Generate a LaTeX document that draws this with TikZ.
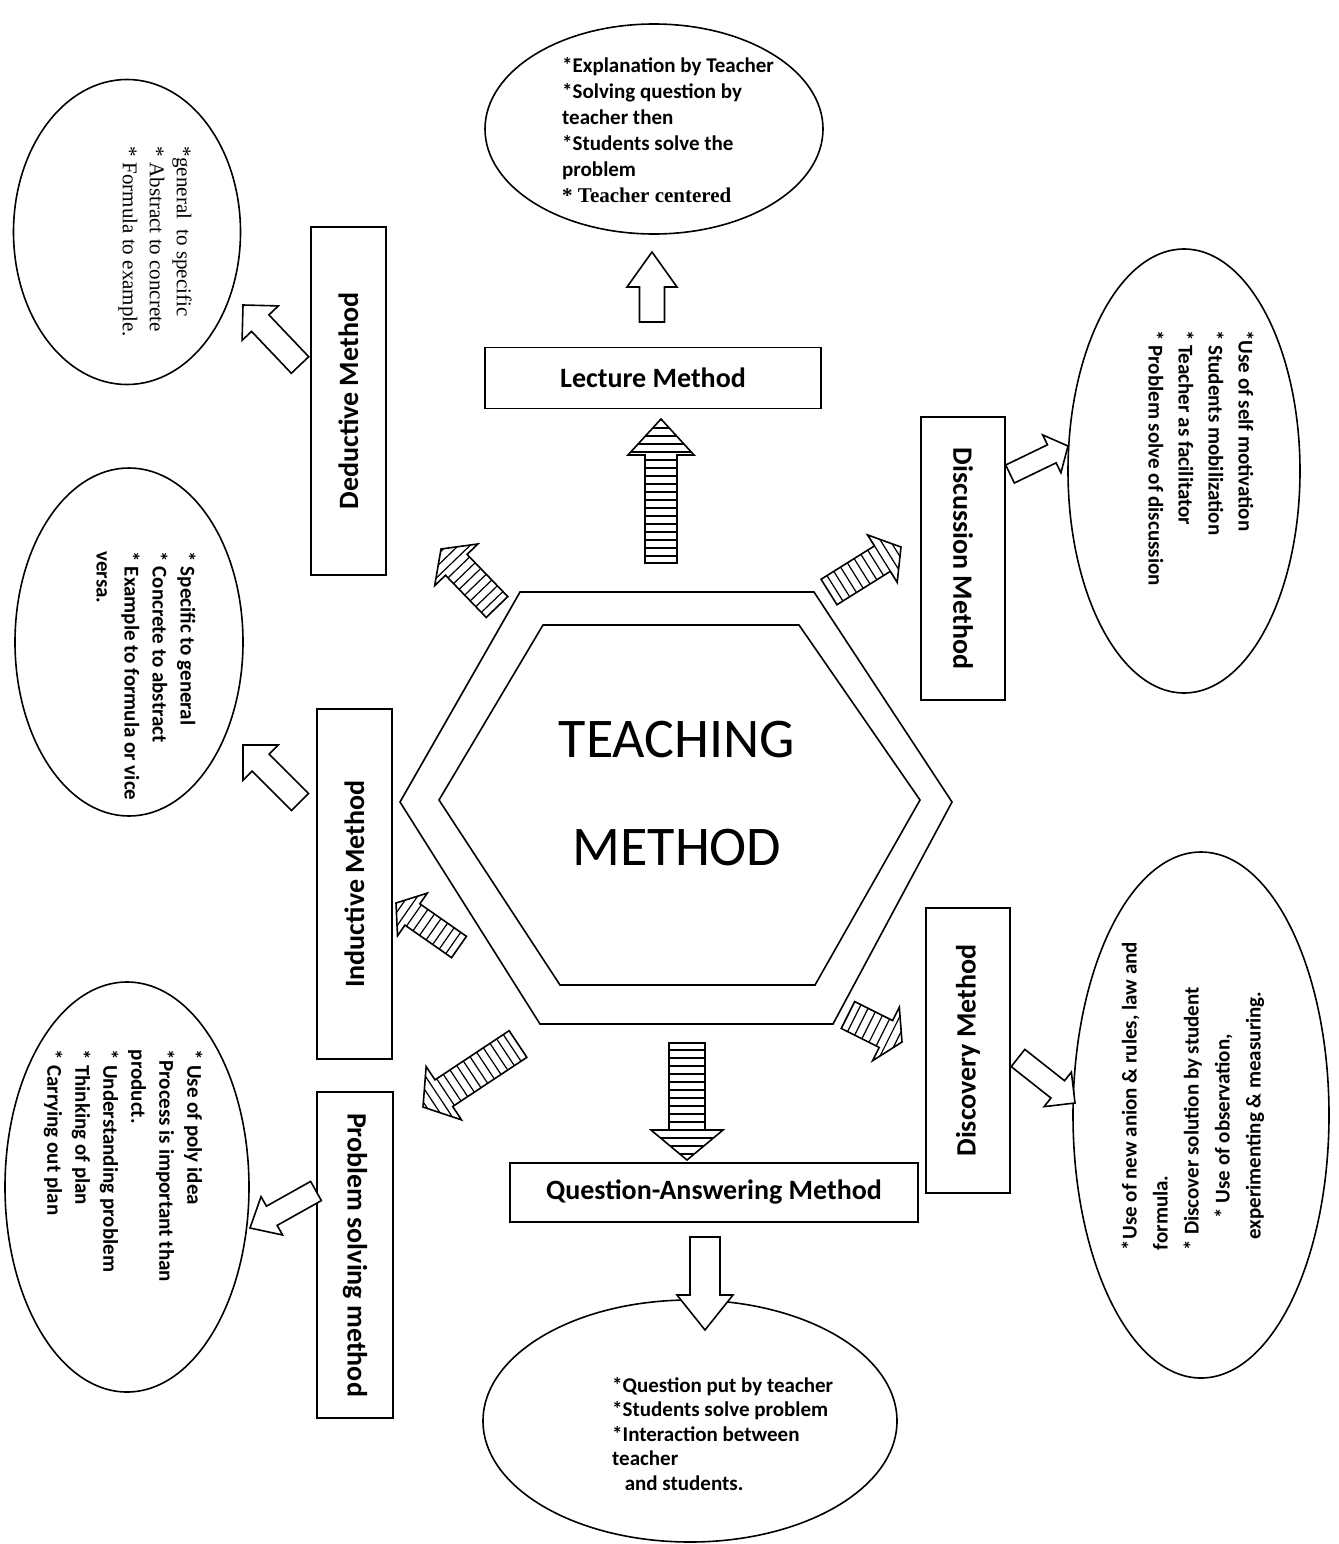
\documentclass[tikz,border=0pt]{standalone}
\usepackage{fontspec}
\setmainfont{Carlito}
\newfontfamily\timesfont{Liberation Serif}
\usetikzlibrary{calc}
\usetikzlibrary{shapes.geometric}
\tikzset{box/.style = {draw, line width=1.6pt, inner sep=0pt,
                       font=\bfseries\fontsize{28}{34}\selectfont},
         bubble/.style = {draw, ellipse, line width=1.6pt, inner sep=0pt},
         bubtext/.style = {align=left, inner sep=0pt,
                           font=\bfseries\fontsize{21}{28}\selectfont},
         outline/.style = {line width=1.6pt, line join=miter},
         stripe/.style = {line width=1.2pt}}
% block arrows: {tail}{tip}{shaft half width}{head half width}{head length}
\newcommand{\hollowarrow}[5]{%
  \coordinate (hb) at ($(#2)!#5pt!(#1)$);
  \draw [outline, fill=white] ($(#1)!#3pt!90:(#2)$) -- ($(hb)!#3pt!90:(#2)$)
        -- ($(hb)!#4pt!90:(#2)$) -- (#2) -- ($(hb)!#4pt!-90:(#2)$)
        -- ($(hb)!#3pt!-90:(#2)$) -- ($(#1)!#3pt!-90:(#2)$) -- cycle;}
\newcommand{\hatcharrow}[5]{%
  \coordinate (hb) at ($(#2)!#5pt!(#1)$);
  \begin{scope}
    \clip ($(#1)!#3pt!90:(#2)$) -- ($(hb)!#3pt!90:(#2)$)
        -- ($(hb)!#4pt!90:(#2)$) -- (#2) -- ($(hb)!#4pt!-90:(#2)$)
        -- ($(hb)!#3pt!-90:(#2)$) -- ($(#1)!#3pt!-90:(#2)$) -- cycle;
    \foreach \d in {7,15,...,151} {
      \coordinate (hm) at ($(#1)!\d pt!(#2)$);
      \draw [stripe] ($(hm)!50pt!90:(#2)$) -- ($(hm)!50pt!-90:(#2)$);
    }
  \end{scope}
  \draw [outline] ($(#1)!#3pt!90:(#2)$) -- ($(hb)!#3pt!90:(#2)$)
        -- ($(hb)!#4pt!90:(#2)$) -- (#2) -- ($(hb)!#4pt!-90:(#2)$)
        -- ($(hb)!#3pt!-90:(#2)$) -- ($(#1)!#3pt!-90:(#2)$) -- cycle;}

\begin{document}
\begin{tikzpicture}[x=1pt, y=-1pt]
    \useasboundingbox (0,0) rectangle (1338,1544);

    \draw [outline] (520,592) -- (814,592) -- (952,802) -- (833,1024) -- (540,1024) -- (400,802) -- cycle;
    \draw [outline] (543,625) -- (799,625) -- (920,800) -- (815,985) -- (560,985) -- (439,800) -- cycle;
    \node [anchor=base, font=\fontsize{56}{60}\selectfont] (coreA) at (677,757) {TEACHING};
    \node [anchor=base, font=\fontsize{56}{60}\selectfont] (coreB) at (677,865) {METHOD};

    \node [box, minimum width=336pt, minimum height=61pt] (lecB) at (653,378) {Lecture Method};
    \node [box, rotate=90, minimum width=348pt, minimum height=75pt] (dedB) at (348.5,401) {Deductive Method};
    \node [box, rotate=-90, minimum width=283pt, minimum height=84pt] (disB) at (963,558.5) {Discussion Method};
    \node [box, rotate=90, minimum width=350pt, minimum height=75pt] (indB) at (354.5,884) {Inductive Method};
    \node [box, rotate=-90, minimum width=326pt, minimum height=76pt] (proB) at (355,1255) {Problem solving method};
    \node [box, rotate=90, minimum width=285pt, minimum height=84pt] (dscB) at (968,1050.5) {Discovery Method};
    \node [box, minimum width=408pt, minimum height=59pt] (qaB) at (714,1192.5) {Question-Answering Method};

    \node [bubble, minimum width=338pt, minimum height=210pt] (lecE) at (654,129) {};
    \node [bubble, minimum width=227pt, minimum height=305pt] (dedE) at (127,232) {};
    \node [bubble, minimum width=232pt, minimum height=444pt] (disE) at (1184,471) {};
    \node [bubble, minimum width=228pt, minimum height=348pt] (indE) at (129,642) {};
    \node [bubble, minimum width=244pt, minimum height=410pt] (proE) at (127,1187) {};
    \node [bubble, minimum width=256pt, minimum height=526pt] (dscE) at (1201,1115) {};
    \node [bubble, minimum width=414pt, minimum height=242pt] (qaE) at (690,1421) {};

    \node [bubtext, anchor=west, font=\bfseries\fontsize{21}{26}\selectfont] (lecT) at (562,130)
          {*Explanation by Teacher\\*Solving question by\\teacher then\\*Students solve the\\problem\\{\timesfont * Teacher centered}};
    \node [bubtext, rotate=-90, font=\timesfont\fontsize{21}{27}\selectfont] (dedT) at (155,242)
          {*general\ \ to specific\\* Abstract to concrete\\* Formula to example.};
    \node [bubtext, rotate=-90, font=\bfseries\fontsize{21}{30}\selectfont] (disT) at (1201,458)
          {*Use of self motivation\\* Students mobilization\\* Teacher as facilitator\\* Problem solve of discussion};
    \node [bubtext, rotate=-90] (indT) at (146,676)
          {* Specific to general\\* Concrete to abstract\\* Example to formula or vice\\versa.};
    \node [bubtext, rotate=-90] (proT) at (123,1166)
          {* Use of poly idea\\*Process is important than\\product.\\* Understanding problem\\* Thinking of plan\\* Carrying out plan};
    \node [bubtext, rotate=90, font=\bfseries\fontsize{21}{31}\selectfont] (dscT) at (1193,1096)
          {*Use of new anion \& rules, law and\\formula.\\* Discover solution by student\\\hspace*{1.5em}* Use of observation,\\\hspace*{0.5em}experimenting \& measuring.};
    \node [bubtext, anchor=west, font=\bfseries\fontsize{21}{24.5}\selectfont] (qaT) at (612,1434)
          {*Question put by teacher\\*Students solve problem\\*Interaction between\\teacher\\\hspace*{0.6em}and students.};

    \coordinate (hUp0) at (661,563);    \coordinate (hUp1) at (661,419);
    \coordinate (hDed0) at (497,607);   \coordinate (hDed1) at (441,549);
    \coordinate (hDis0) at (829,592);   \coordinate (hDis1) at (901,547);
    \coordinate (hInd0) at (459,947);   \coordinate (hInd1) at (396,903);
    \coordinate (hPro0) at (518,1044);  \coordinate (hPro1) at (423,1107);
    \coordinate (hQa0) at (687,1043);   \coordinate (hQa1) at (687,1160);
    \coordinate (hDsc0) at (848,1015);  \coordinate (hDsc1) at (902,1042);
    \hatcharrow{hUp0}{hUp1}{16}{33}{36}
    \hatcharrow{hDed0}{hDed1}{15}{30}{22}
    \hatcharrow{hDis0}{hDis1}{15}{28}{22}
    \hatcharrow{hInd0}{hInd1}{13}{26}{20}
    \hatcharrow{hPro0}{hPro1}{16}{32}{25}
    \hatcharrow{hQa0}{hQa1}{18}{36}{30}
    \hatcharrow{hDsc0}{hDsc1}{15}{30}{18}

    \coordinate (wLec0) at (652,322);   \coordinate (wLec1) at (652,252);
    \coordinate (wDed0) at (300,365);   \coordinate (wDed1) at (243,305);
    \coordinate (wDis0) at (1010,474);  \coordinate (wDis1) at (1068,446);
    \coordinate (wInd0) at (300,802);   \coordinate (wInd1) at (243,745);
    \coordinate (wPro0) at (316,1191);  \coordinate (wPro1) at (250,1228);
    \coordinate (wDsc0) at (1018,1058); \coordinate (wDsc1) at (1075,1103);
    \coordinate (wQa0) at (705,1237);   \coordinate (wQa1) at (705,1330);
    \hollowarrow{wLec0}{wLec1}{12.5}{25}{35}
    \hollowarrow{wDed0}{wDed1}{12}{25}{25}
    \hollowarrow{wDis0}{wDis1}{10}{21}{18}
    \hollowarrow{wInd0}{wInd1}{12}{25}{25}
    \hollowarrow{wPro0}{wPro1}{11}{22}{25}
    \hollowarrow{wDsc0}{wDsc1}{11}{22}{22}
    \hollowarrow{wQa0}{wQa1}{15}{28}{35}
  \end{tikzpicture}
\end{document}
